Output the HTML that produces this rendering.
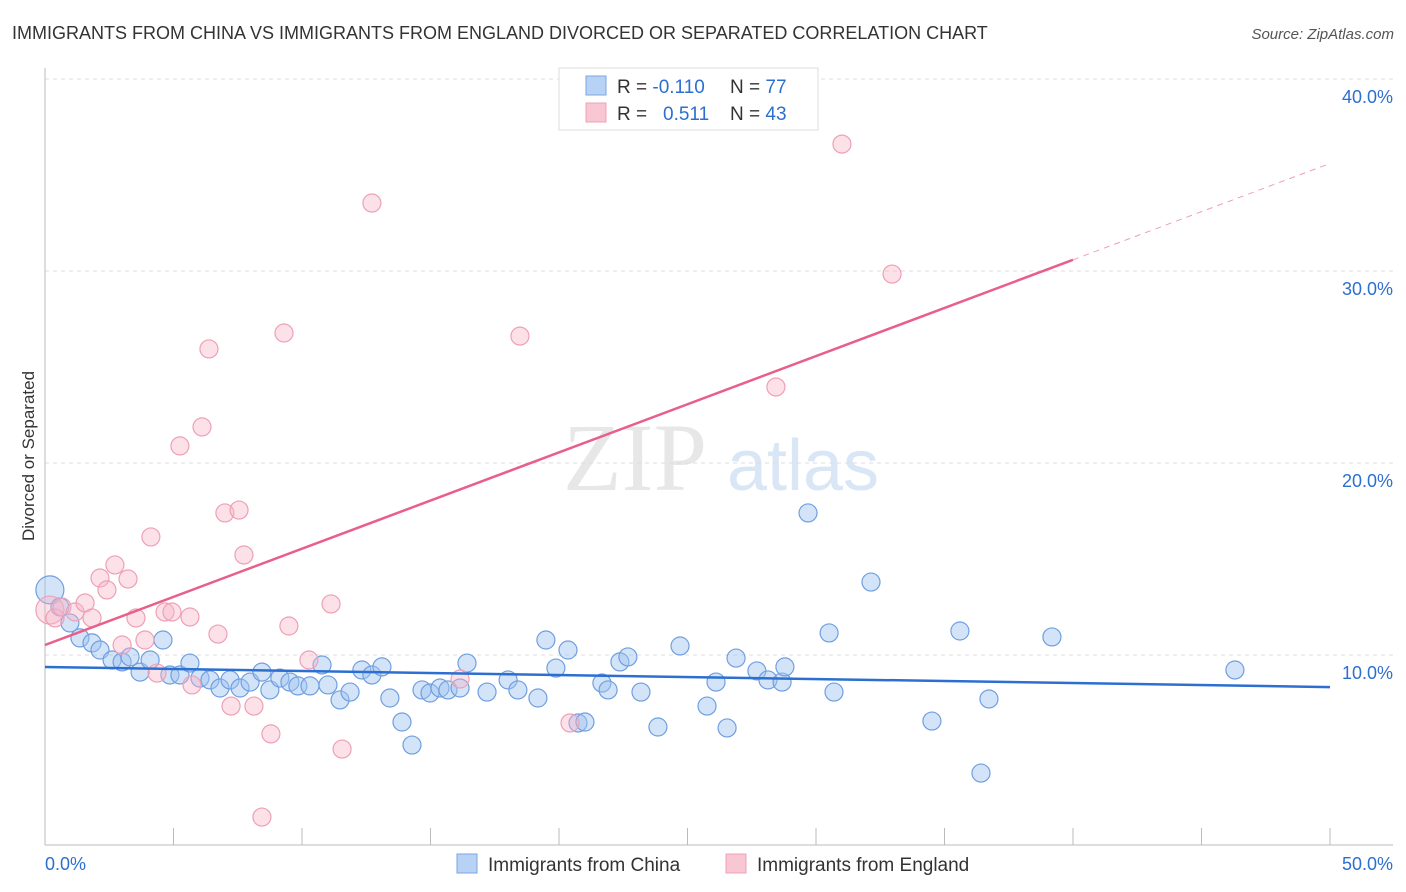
<!DOCTYPE html>
<html><head><meta charset="utf-8"><style>
body{margin:0;background:#fff;font-family:"Liberation Sans",sans-serif;}
svg{display:block}
</style></head><body>
<svg id="chart" width="1406" height="892">
<text x="12" y="39" font-size="18" fill="#333">IMMIGRANTS FROM CHINA VS IMMIGRANTS FROM ENGLAND DIVORCED OR SEPARATED CORRELATION CHART</text>
<text x="1394" y="39" font-size="15" fill="#555" text-anchor="end" font-style="italic">Source: ZipAtlas.com</text>
<text x="34" y="456" font-size="17" fill="#333" text-anchor="middle" transform="rotate(-90 34 456)">Divorced or Separated</text>
<g>
<text x="635" y="490" font-size="96" fill="#ddd" text-anchor="middle" font-family="Liberation Serif,serif" opacity="0.7">ZIP</text>
<text x="803" y="490" font-size="72" fill="#c9dcf2" text-anchor="middle" opacity="0.7">atlas</text>
</g>
<g id="grid"></g><g id="axes"></g><g id="pts"></g><g id="lines"></g>
<g>
<rect x="559" y="68" width="259" height="62" fill="#fff" stroke="#ddd"/>
<rect x="586" y="76" width="20" height="19" fill="#b8d2f5" stroke="#7aa6e0"/>
<rect x="586" y="103" width="20" height="19" fill="#f9c6d4" stroke="#eea0b5"/>
<text x="617" y="93" font-size="19" fill="#333">R = <tspan fill="#2c6fd1">-0.110</tspan></text>
<text x="730" y="93" font-size="19" fill="#333">N = <tspan fill="#2c6fd1">77</tspan></text>
<text x="617" y="120" font-size="19" fill="#333">R = <tspan fill="#2c6fd1" x="663">0.511</tspan></text>
<text x="730" y="120" font-size="19" fill="#333">N = <tspan fill="#2c6fd1">43</tspan></text>
</g>
<g>
<rect x="457" y="854" width="20" height="19" fill="#b8d2f5" stroke="#7aa6e0"/>
<text x="488" y="871" font-size="19" fill="#333">Immigrants from China</text>
<rect x="726" y="854" width="20" height="19" fill="#f9c6d4" stroke="#eea0b5"/>
<text x="757" y="871" font-size="19" fill="#333">Immigrants from England</text>
</g>
</svg>
<script>
const chinaX=[0.19,0.58,0.97,1.36,1.83,2.14,2.61,3.0,3.31,3.70,4.09,4.59,4.86,5.25,5.64,6.03,6.42,6.81,7.2,7.59,7.98,8.44,8.75,9.14,9.53,9.84,10.31,10.78,11.01,11.48,11.87,12.33,12.72,13.11,13.42,13.89,14.28,14.67,14.98,15.37,15.68,16.15,16.42,17.2,18.02,18.4,19.18,19.49,19.88,20.35,20.74,21.01,21.67,21.91,22.37,22.68,23.19,23.85,24.71,25.76,26.11,26.54,26.89,27.7,28.13,28.68,28.79,29.69,30.51,30.7,32.14,34.51,35.6,36.42,36.73,39.18,46.3];
const chinaY=[13.39,12.5,11.67,10.89,10.63,10.26,9.74,9.64,9.9,9.11,9.74,10.78,8.96,8.96,9.58,8.8,8.7,8.28,8.7,8.28,8.59,9.11,8.18,8.8,8.59,8.39,8.39,9.48,8.44,7.66,8.07,9.22,8.96,9.38,7.76,6.51,5.31,8.18,8.02,8.28,8.18,8.28,9.58,8.07,8.7,8.18,7.76,10.78,9.32,10.26,6.46,6.51,8.54,8.18,9.64,9.9,8.07,6.25,10.47,7.34,8.59,6.2,9.84,9.17,8.7,8.59,9.38,17.4,11.15,8.07,13.8,6.56,11.25,3.85,7.71,10.94,9.22];
const englandX=[0.19,0.39,0.66,1.17,1.56,1.83,2.14,2.41,2.72,3.0,3.23,3.54,3.89,4.12,4.36,4.67,4.94,5.25,5.64,5.72,6.11,6.38,6.73,7.0,7.24,7.55,7.74,8.13,8.44,8.79,9.3,9.49,10.27,11.13,11.56,12.72,16.15,18.48,20.43,28.44,31.01,32.96];
const englandY=[12.34,11.93,12.5,12.24,12.71,11.93,14.01,13.39,14.69,10.52,13.96,11.93,10.78,16.15,9.06,12.24,12.24,20.89,11.98,8.44,21.88,25.94,11.09,17.4,7.34,17.55,15.21,7.34,1.56,5.89,26.77,11.51,9.74,12.66,5.1,33.54,8.75,26.61,6.46,23.96,36.61,29.84];
const chinaTrend=[9.375,8.33];
const englandTrend=[10.52,35.6];
const yTicks=[10,20,30,40];
const xTicks=[0,5,10,15,20,25,30,35,40,45,50];
const NS='http://www.w3.org/2000/svg';
const sx=v=>45+v*25.7, sy=v=>847-v*19.2;
function mk(t,a,p){const e=document.createElementNS(NS,t);for(const k in a)e.setAttribute(k,a[k]);document.getElementById(p).appendChild(e);return e;}
yTicks.forEach(t=>{
 const l=mk('line',{x1:45,x2:1393,y1:sy(t),y2:sy(t),stroke:'#ddd','stroke-dasharray':'4,4'},'grid');
 
 
 const tx=mk('text',{x:1393,y:sy(t)+24,'font-size':18,fill:'#2c6fd1','text-anchor':'end'},'grid');
 tx.textContent=t.toFixed(1)+'%';
 
 
});
mk('line',{x1:45,x2:45,y1:68,y2:845,stroke:'#bbb'},'axes');
mk('line',{x1:45,x2:1393,y1:845,y2:845,stroke:'#bbb'},'axes');
xTicks.forEach(t=>{
 const l=mk('line',{x1:sx(t),x2:sx(t),y1:828,y2:845,stroke:'#bbb'},'axes');
 
 
});
[[0,'0.0%',45,'start'],[50,'50.0%',1393,'end']].forEach(d=>{
 const tx=mk('text',{x:d[2],y:870,'font-size':18,fill:'#2c6fd1','text-anchor':d[3]},'axes');
 tx.textContent=d[1];
 
 
});
chinaX.forEach((x,i)=>{
 const c=mk('circle',{cx:sx(x),cy:sy(chinaY[i]),r:i==0?14:9,fill:'rgba(160,195,240,0.45)',stroke:'#6f9fe0','stroke-width':1.2},'pts');
 
 
});
englandX.forEach((x,i)=>{
 const c=mk('circle',{cx:sx(x),cy:sy(englandY[i]),r:i==0?14:9,fill:'rgba(248,180,200,0.4)',stroke:'#eea0b5','stroke-width':1.2},'pts');
 
 
});
const bl=mk('line',{x1:sx(0),y1:sy(chinaTrend[0]),x2:sx(50),y2:sy(chinaTrend[1]),stroke:'#2c6fd1','stroke-width':2.5},'lines');


const e40=englandTrend[0]+(englandTrend[1]-englandTrend[0])*0.8;
const pl=mk('line',{x1:sx(0),y1:sy(englandTrend[0]),x2:sx(40),y2:sy(e40),stroke:'#e8608a','stroke-width':2.5},'lines');


const pd=mk('line',{x1:sx(40),y1:sy(e40),x2:sx(50),y2:sy(englandTrend[1]),stroke:'#eea0b5','stroke-width':1,'stroke-dasharray':'6,5'},'lines');


</script>
</body></html>
